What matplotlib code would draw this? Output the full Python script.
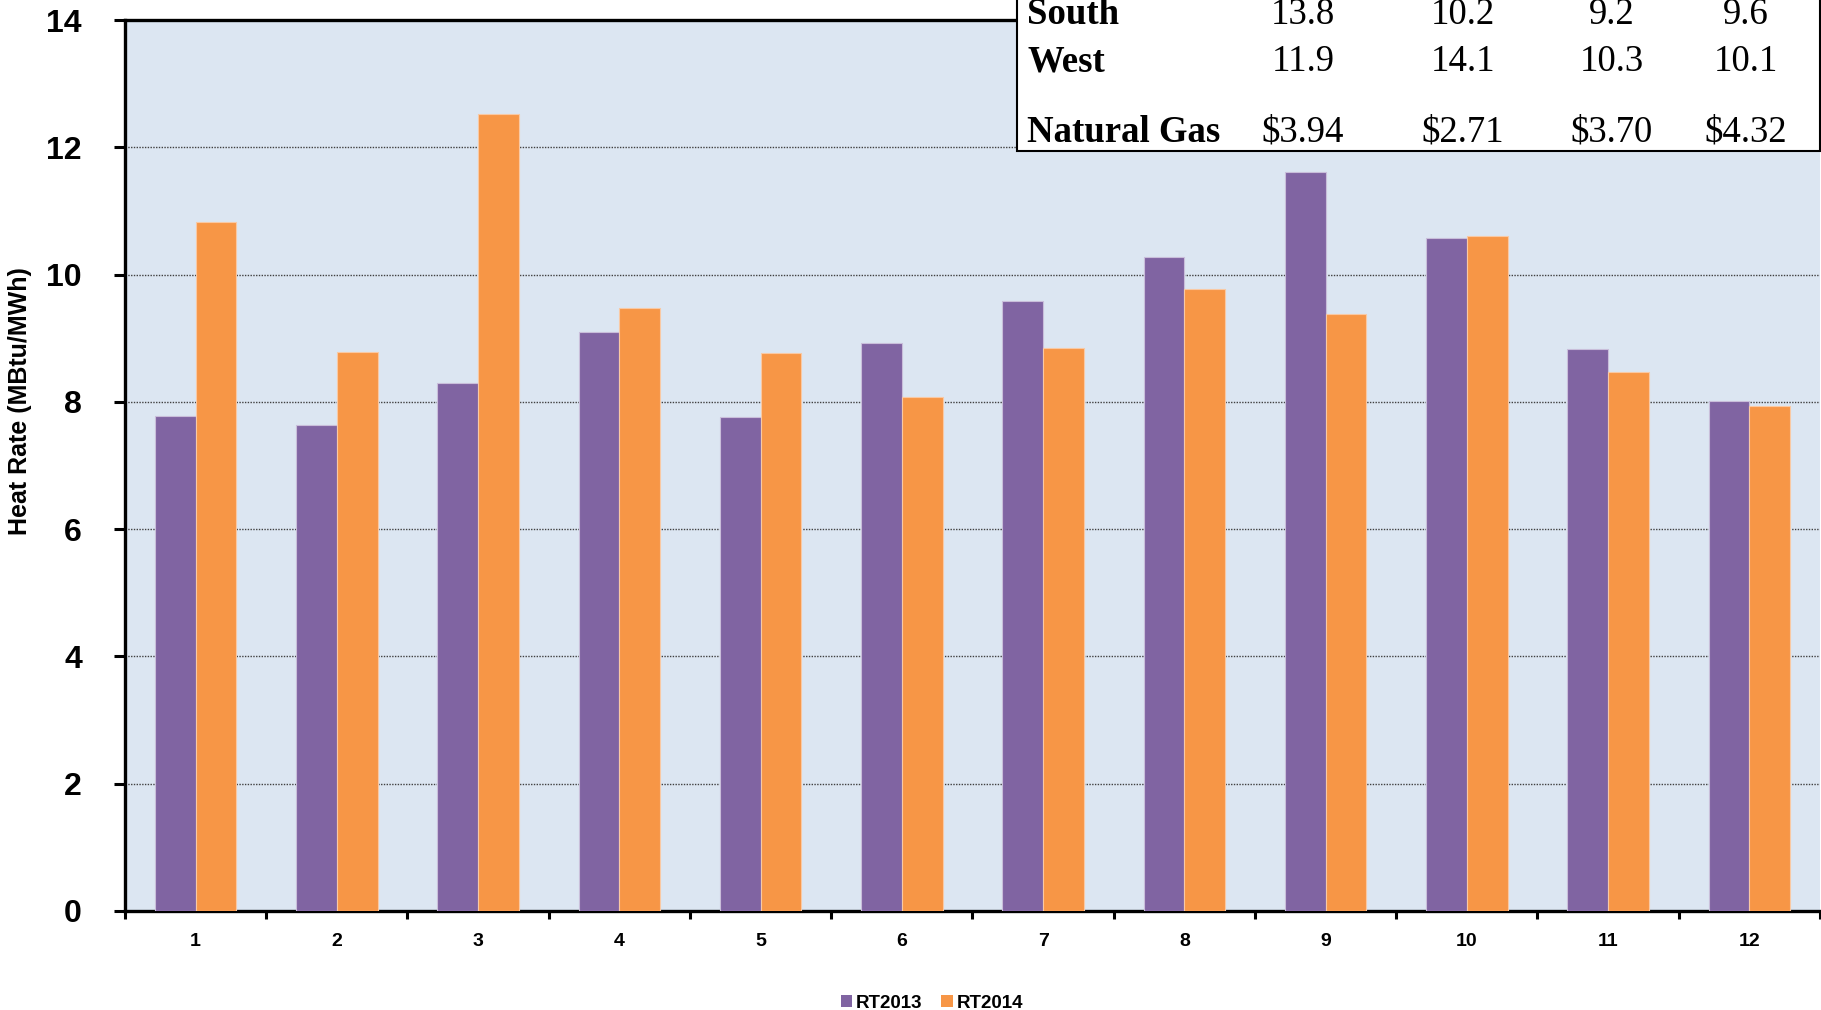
import matplotlib
matplotlib.use("Agg")
import matplotlib.pyplot as plt
from matplotlib.patches import Rectangle, Patch
import numpy as np

months = [1, 2, 3, 4, 5, 6, 7, 8, 9, 10, 11, 12]
rt2013 = [7.78, 7.64, 8.30, 9.10, 7.76, 8.92, 9.59, 10.27, 11.61, 10.58, 8.83, 8.01]
rt2014 = [10.83, 8.79, 12.53, 9.48, 8.77, 8.08, 8.85, 9.78, 9.38, 10.60, 8.47, 7.94]

table_rows = ["South", "West", "", "Natural Gas"]
table_vals = [["13.8", "10.2", "9.2", "9.6"],
              ["11.9", "14.1", "10.3", "10.1"],
              ["", "", "", ""],
              ["$3.94", "$2.71", "$3.70", "$4.32"]]

purple = "#8064A2"
orange = "#F79646"
bg = "#DCE6F2"

W, H = 1821, 1010
fig = plt.figure(figsize=(W / 100, H / 100), dpi=100)
ax = fig.add_axes([125 / W, 99 / H, (1820 - 125) / W, (911 - 20) / H])
ax.set_facecolor(bg)

x = np.array(months, dtype=float)
bw = 0.288
ax.bar(x - bw / 2, rt2013, bw, color=purple, edgecolor="#C9BEDA", linewidth=0.8, label="RT2013", zorder=3)
ax.bar(x + bw / 2, rt2014, bw, color=orange, edgecolor="#F9C9A4", linewidth=0.8, label="RT2014", zorder=3)

ax.set_xlim(0.5, 12.5)
ax.set_ylim(0, 14)
ax.set_yticks(np.arange(0, 15, 2))
ax.set_yticklabels([str(v) for v in range(0, 15, 2)], fontsize=23, fontweight="bold", family="Liberation Sans")
ax.yaxis.grid(True, color="#404040", linestyle=(0, (1, 1)), linewidth=1.0, zorder=1)
ax.set_axisbelow(True)

ax.set_xticks(np.arange(0.5, 13, 1))
ax.set_xticklabels([])
ax.set_xticks(x, minor=True)
ax.set_xticklabels([str(m) for m in months], minor=True, fontsize=14, fontweight="bold", family="Liberation Sans")
ax.tick_params(axis="x", which="minor", length=0, pad=15.5)
ax.tick_params(axis="x", which="major", length=6, width=2.2, direction="out")
ax.tick_params(axis="y", length=8, width=2.2, direction="out", pad=23)

for s in ["left", "bottom", "top"]:
    ax.spines[s].set_linewidth(2.4)
    ax.spines[s].set_color("black")
ax.spines["right"].set_visible(False)

ax.set_ylabel("Heat Rate (MBtu/MWh)", fontsize=18, fontweight="bold", family="Liberation Sans")
ax.yaxis.set_label_coords((32 - 125) / (1820 - 125), 0.572)

# legend
handles = [Patch(facecolor=purple), Patch(facecolor=orange)]
leg = fig.legend(handles, ["RT2013", "RT2014"], loc="center", bbox_to_anchor=(932 / W, 1 - 1003 / H),
                 ncol=2, frameon=False, prop={"family": "Liberation Sans", "weight": "bold", "size": 13.5},
                 handlelength=0.6, handleheight=0.6, handletextpad=0.2, columnspacing=1.0)

# table box (top clipped)
bx0, bx1 = 1017 / W, 1 - 1 / W
by0 = 1 - 151 / H
fig.patches.append(Rectangle((bx0, by0), bx1 - bx0, 1.2 - by0, transform=fig.transFigure,
                             facecolor="white", edgecolor="black", linewidth=1.5, zorder=10))
row_y = [15, 62, None, 132]
col_x = [1303, 1463, 1612, 1746]
for r, lab in enumerate(table_rows):
    if row_y[r] is None:
        continue
    yy = 1 - row_y[r] / H
    fig.text(1027 / W, yy, lab, fontsize=26.5, fontweight="bold", family="Liberation Serif",
             va="center", ha="left", zorder=11)
    for c, v in enumerate(table_vals[r]):
        fig.text(col_x[c] / W, yy, v, fontsize=26.5, family="Liberation Serif",
                 va="center", ha="center", zorder=11)

fig.savefig("out.png", dpi=100)
